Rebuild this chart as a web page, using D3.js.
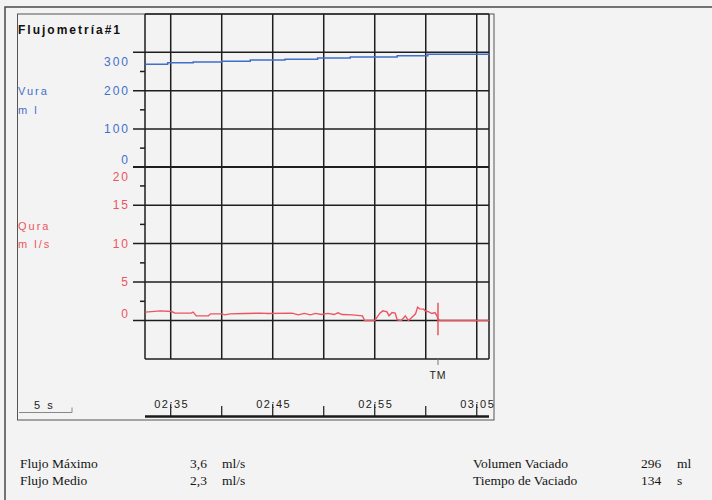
<!DOCTYPE html>
<html>
<head>
<meta charset="utf-8">
<script src="https://cdn.jsdelivr.net/npm/d3@7"></script>
<style>
  body { margin: 0; background: #f3f3f3; }
  svg { display: block; }
  .sans { font-family: "Liberation Sans", Arial, sans-serif; }
  .serif { font-family: "Liberation Serif", "Times New Roman", serif; font-size: 13.5px; fill: #151515; }
</style>
</head>
<body>
<div id="chart"></div>
<script>
// volume curve (time in s, volume in ml)
const volTime = [152.5, 154.7, 157.2, 160.0, 162.8, 166.2, 169.4, 172.6, 177.2, 180.2, 186.2];
const volValue = [269, 273, 275, 277, 280, 282, 285, 288, 291, 295, 296];

// flow curve (time in s, flow in ml/s)
const flowTime = [152.5, 154.0, 155.1, 155.4, 157.0, 157.2, 157.5, 158.7, 158.9, 160.0, 160.3, 160.8,
  162.3, 163.8, 164.5, 166.9, 167.5, 168.1, 168.7, 169.2, 169.8, 170.4, 171.0, 171.4, 171.8, 172.8,
  173.8, 174.0, 175.0, 175.5, 175.8, 176.2, 176.4, 176.7, 177.0, 177.2, 177.6, 178.0, 178.3, 178.6,
  179.0, 179.2, 179.4, 179.8, 179.9, 180.3, 180.6, 180.9, 181.1, 181.2, 181.4, 186.2];
const flowValue = [1.09, 1.26, 1.17, 0.96, 0.96, 1.1, 0.61, 0.61, 0.87, 0.87, 0.74, 0.87,
  0.91, 0.96, 0.91, 0.96, 0.74, 0.93, 0.74, 0.93, 0.78, 0.93, 0.78, 1.0, 0.78, 0.74,
  0.61, 0.0, 0.0, 0.96, 1.26, 1.13, 0.61, 1.04, 0.96, 0.1, 0.0, 0.61, 0.0, 0.35,
  0.87, 1.74, 1.52, 1.48, 1.3, 1.13, 0.91, 1.04, 0.61, 0.2, 0.0, 0.0];

const volTicks = [0, 100, 200, 300];
const volMinor = [50, 150, 250];
const flowTicks = [0, 5, 10, 15, 20];
const flowMinor = [2.5, 7.5, 12.5, 17.5];
const gridTimes = [155, 160, 165, 170, 175, 180, 185];
const timeTicks = [155, 165, 175, 185];
const timeLabels = ["02:35", "02:45", "02:55", "03:05"];
const timeMinor = [160, 170, 180];
const tmTime = 181.2;

const summaryLeft = [["Flujo Máximo", "3,6", "ml/s"], ["Flujo Medio", "2,3", "ml/s"]];
const summaryRight = [["Volumen Vaciado", "296", "ml"], ["Tiempo de Vaciado", "134", "s"]];

const W = 712, H = 500;
const blue = "#3f6fca", red = "#ec5560", gridColor = "#1e1e1e";

const svg = d3.select("#chart").append("svg").attr("width", W).attr("height", H);

const x = d3.scaleLinear().domain([152.48, 186.2]).range([145, 489]);
const yV = d3.scaleLinear().domain([0, 400]).range([167.3, 14]);
const yQ = d3.scaleLinear().domain([-5, 20]).range([359, 166.7]);

// page frames
svg.append("path").attr("d", `M5,${H} V7 H${W}`).attr("fill", "none").attr("stroke", "#4a4a4a").attr("stroke-width", 1.5);
svg.append("rect").attr("x", 17.5).attr("y", 14).attr("width", 476.5).attr("height", 406)
  .attr("fill", "none").attr("stroke", "#555").attr("stroke-width", 1);

svg.append("text").attr("class", "sans").attr("x", 18).attr("y", 34)
  .style("font-size", "12px").style("font-weight", "bold").style("letter-spacing", "2px")
  .attr("fill", "#111").text("Flujometría#1");

const grid = svg.append("g").attr("stroke", gridColor).attr("stroke-width", 1.5);

// vertical grid lines
grid.selectAll(".vgrid")
  .data(gridTimes)
  .join("line")
  .attr("class", "vgrid")
  .attr("x1", d => x(d)).attr("x2", d => x(d))
  .attr("y1", yV(400)).attr("y2", yQ(-5));

// plot borders
grid.append("line").attr("x1", x.range()[0]).attr("x2", x.range()[0]).attr("y1", yV(400)).attr("y2", yQ(-5));
grid.append("line").attr("x1", x.range()[1]).attr("x2", x.range()[1]).attr("y1", yV(400)).attr("y2", yQ(-5));
grid.append("line").attr("x1", x.range()[0]).attr("x2", x.range()[1]).attr("y1", yQ(-5)).attr("y2", yQ(-5));

// horizontal grid lines with ticks extending left
grid.selectAll(".hgridV")
  .data(volTicks.concat([400]))
  .join("line")
  .attr("class", "hgridV")
  .attr("x1", d => d === 400 ? x.range()[0] : 133).attr("x2", x.range()[1])
  .attr("y1", d => yV(d)).attr("y2", d => yV(d));

grid.selectAll(".hgridQ")
  .data(flowTicks)
  .join("line")
  .attr("class", "hgridQ")
  .attr("x1", 133).attr("x2", x.range()[1])
  .attr("y1", d => yQ(d)).attr("y2", d => yQ(d));

grid.selectAll(".minorV")
  .data(volMinor)
  .join("line")
  .attr("class", "minorV")
  .attr("x1", 140).attr("x2", 145)
  .attr("y1", d => yV(d)).attr("y2", d => yV(d));

grid.selectAll(".minorQ")
  .data(flowMinor)
  .join("line")
  .attr("class", "minorQ")
  .attr("x1", 140).attr("x2", 145)
  .attr("y1", d => yQ(d)).attr("y2", d => yQ(d));

// tick labels: end labels nudged inward like the printout
function labelDy(i, n) {
  if (i === n - 1) return 14;
  if (i === 0) return -3;
  return 4;
}

svg.selectAll(".labV")
  .data(volTicks)
  .join("text")
  .attr("class", "labV sans")
  .attr("x", 130).attr("y", d => yV(d))
  .attr("dy", (d, i) => labelDy(i, volTicks.length))
  .attr("text-anchor", "end")
  .style("font-size", "12px").style("letter-spacing", "2px")
  .attr("fill", blue)
  .text(d => d);

svg.selectAll(".labQ")
  .data(flowTicks)
  .join("text")
  .attr("class", "labQ sans")
  .attr("x", 130).attr("y", d => yQ(d))
  .attr("dy", (d, i) => labelDy(i, flowTicks.length))
  .attr("text-anchor", "end")
  .style("font-size", "12px").style("letter-spacing", "2px")
  .attr("fill", red)
  .text(d => d);

// axis titles
const titles = [["Vura", 95, blue], ["m l", 114, blue], ["Qura", 230, red], ["m l/s", 248, red]];
svg.selectAll(".ytitle")
  .data(titles)
  .join("text")
  .attr("class", "ytitle sans")
  .attr("x", 18).attr("y", d => d[1])
  .style("font-size", "11px").style("letter-spacing", "2px")
  .attr("fill", d => d[2])
  .text(d => d[0]);

// curves
const volLine = d3.line().x(d => x(d[0])).y(d => yV(d[1])).curve(d3.curveStepAfter);
svg.append("path")
  .datum(volTime.map((t, i) => [t, volValue[i]]))
  .attr("d", volLine)
  .attr("fill", "none").attr("stroke", blue).attr("stroke-width", 1.5);

const flowLine = d3.line().x(d => x(d[0])).y(d => yQ(d[1]));
svg.append("path")
  .datum(flowTime.map((t, i) => [t, flowValue[i]]))
  .attr("d", flowLine)
  .attr("fill", "none").attr("stroke", red).attr("stroke-width", 1.4);

// TM marker
svg.append("line")
  .attr("x1", x(tmTime)).attr("x2", x(tmTime))
  .attr("y1", yQ(2.3)).attr("y2", yQ(-1.9))
  .attr("stroke", red).attr("stroke-width", 1.5);
svg.append("line")
  .attr("x1", x(tmTime)).attr("x2", x(tmTime))
  .attr("y1", yQ(-5)).attr("y2", yQ(-5) + 6)
  .attr("stroke", "#777").attr("stroke-width", 1);
svg.append("text").attr("class", "sans")
  .attr("x", x(tmTime)).attr("y", 379)
  .attr("text-anchor", "middle")
  .style("font-size", "10.5px").style("letter-spacing", "1px")
  .attr("fill", "#222").text("TM");

// time axis
const axisY = 416.5;
svg.append("line")
  .attr("x1", x.range()[0]).attr("x2", x.range()[1])
  .attr("y1", axisY).attr("y2", axisY)
  .attr("stroke", "#1a1a1a").attr("stroke-width", 2.5);

svg.selectAll(".tmaj")
  .data(timeTicks)
  .join("line")
  .attr("class", "tmaj")
  .attr("x1", d => x(d)).attr("x2", d => x(d))
  .attr("y1", 404).attr("y2", axisY)
  .attr("stroke", "#1a1a1a").attr("stroke-width", 1.2);

svg.selectAll(".tmin")
  .data(timeMinor)
  .join("line")
  .attr("class", "tmin")
  .attr("x1", d => x(d)).attr("x2", d => x(d))
  .attr("y1", 406).attr("y2", axisY)
  .attr("stroke", "#1a1a1a").attr("stroke-width", 1.2);

svg.selectAll(".tlab")
  .data(timeTicks)
  .join("text")
  .attr("class", "tlab sans")
  .attr("x", d => x(d) + 1).attr("y", 408)
  .attr("text-anchor", "middle")
  .style("font-size", "11px").style("letter-spacing", "1.5px")
  .attr("fill", "#222")
  .text((d, i) => timeLabels[i]);

// 5 s scale bar
const barLen = x(160) - x(155);
svg.append("path")
  .attr("d", `M19,412.5 H${19 + barLen + 2} V407.5`)
  .attr("fill", "none").attr("stroke", "#888").attr("stroke-width", 1);
svg.append("text").attr("class", "sans")
  .attr("x", 34).attr("y", 409)
  .style("font-size", "11px").style("letter-spacing", "2px")
  .attr("fill", "#222").text("5 s");

// summary
function summary(rows, x0, x1, x2) {
  const g = svg.append("g").attr("class", "serif");
  rows.forEach((r, i) => {
    const yy = 467.5 + i * 17;
    g.append("text").attr("x", x0).attr("y", yy).text(r[0]);
    g.append("text").attr("x", x1).attr("y", yy).text(r[1]);
    g.append("text").attr("x", x2).attr("y", yy).text(r[2]);
  });
}
summary(summaryLeft, 20, 190, 222);
summary(summaryRight, 473, 641, 677);
</script>
</body>
</html>
